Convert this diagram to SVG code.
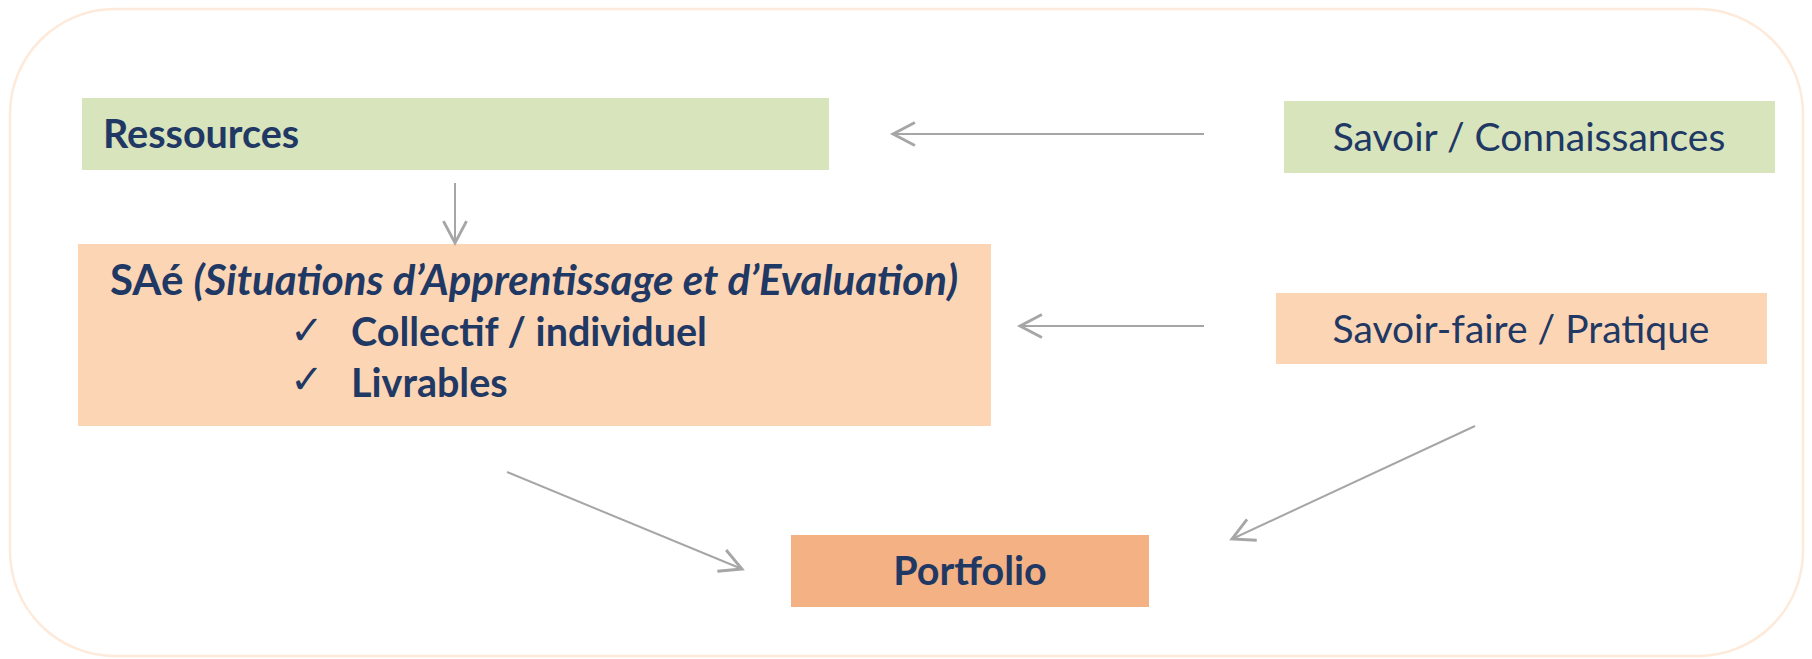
<svg xmlns="http://www.w3.org/2000/svg" width="1812" height="659" viewBox="0 0 1812 659">
<style>
.lbl{font-family:Lato,"Liberation Sans",sans-serif;font-size:39px;fill:#1F3864}
.b{font-weight:bold;font-size:39.5px}
.chk{font-family:"DejaVu Sans",sans-serif;font-size:40px;fill:#1F3864}
.con{stroke:#A6A6A6;stroke-width:2;fill:none}
</style>
<defs>
<marker id="ah" markerUnits="userSpaceOnUse" markerWidth="30" markerHeight="30" viewBox="-22 -13 26 26" refX="0" refY="0" orient="auto">
<path d="M-19,-10 L0,0 L-19,10" fill="none" stroke="#A6A6A6" stroke-width="2.5"/>
</marker>
</defs>
<rect x="0" y="0" width="1812" height="659" fill="#FFFFFF"/>
<rect id="frame" x="10" y="9" width="1793" height="647" rx="105" ry="105" fill="#FFFFFF" stroke="#FDEADA" stroke-width="2.5"/>
<g id="ressources">
<rect x="82" y="98" width="747" height="72" fill="#D8E4BC"/>
<text class="lbl b" x="103" y="148">Ressources</text>
</g>
<g id="savoir">
<rect x="1284" y="101" width="491" height="72" fill="#D8E4BC"/>
<text class="lbl" x="1529" y="151" text-anchor="middle">Savoir / Connaissances</text>
</g>
<g id="sae">
<rect x="78" y="244" width="913" height="182" fill="#FCD5B5"/>
<text class="lbl b" x="534" y="295" text-anchor="middle" style="font-size:42px">SAé <tspan font-style="italic">(Situations d’Apprentissage et d’Evaluation)</tspan></text>
<text class="chk" x="290" y="344">✓</text>
<text class="lbl b" x="351" y="346">Collectif / individuel</text>
<text class="chk" x="290" y="393">✓</text>
<text class="lbl b" x="351" y="397">Livrables</text>
</g>
<g id="savoirfaire">
<rect x="1276" y="293" width="491" height="71" fill="#FCD5B5"/>
<text class="lbl" x="1521" y="343" text-anchor="middle">Savoir-faire / Pratique</text>
</g>
<g id="portfolio">
<rect x="791" y="535" width="358" height="72" fill="#F4B183"/>
<text class="lbl b" x="970" y="585" text-anchor="middle">Portfolio</text>
</g>
<g id="connectors">
<line class="con" x1="455" y1="183" x2="455" y2="243" marker-end="url(#ah)"/>
<line class="con" x1="1204" y1="134" x2="893" y2="134" marker-end="url(#ah)"/>
<line class="con" x1="1204" y1="326" x2="1020" y2="326" marker-end="url(#ah)"/>
<line class="con" x1="507" y1="472" x2="742" y2="569" marker-end="url(#ah)"/>
<line class="con" x1="1475" y1="426" x2="1232" y2="539" marker-end="url(#ah)"/>
</g>
</svg>
